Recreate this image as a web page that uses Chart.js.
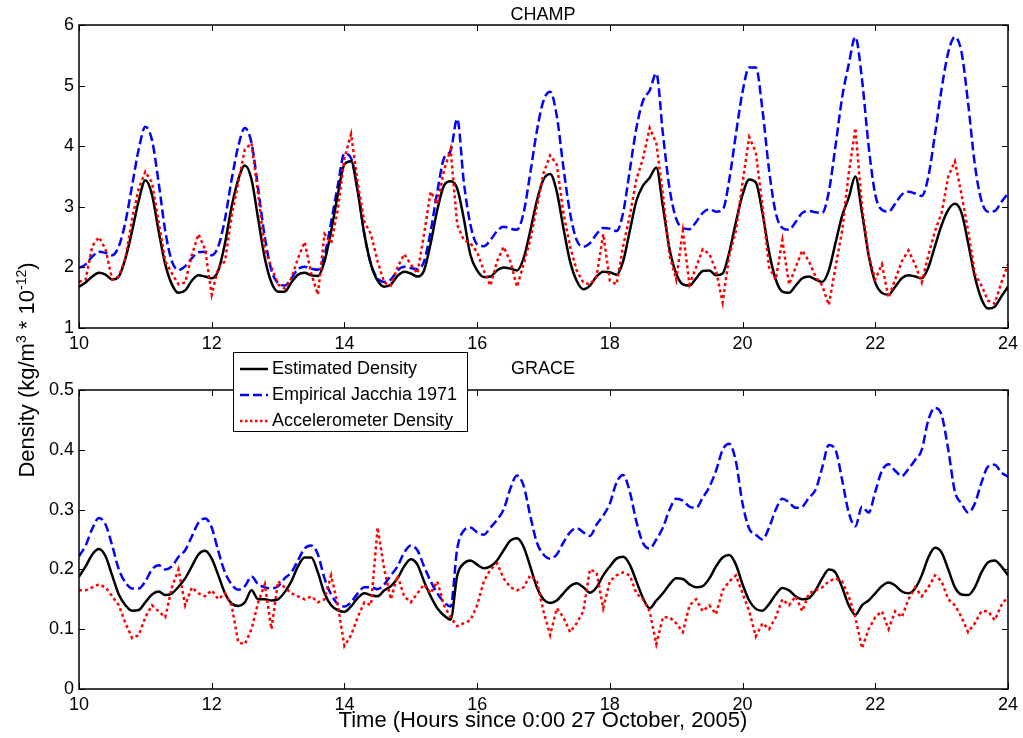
<!DOCTYPE html>
<html>
<head>
<meta charset="utf-8">
<script src="https://cdn.jsdelivr.net/npm/chart.js@4"></script>
<style>
body { margin: 0; background: #fff; }
#wrap { position: relative; width: 1023px; height: 738px; font-family: "Liberation Sans", Arial, sans-serif; color: #000; }
canvas { position: absolute; left: 0; }
.lbl { position: absolute; white-space: nowrap; text-align: center; }
.lbl sup { font-size: 14px; }
#legend { position: absolute; left: 233px; top: 352px; width: 233px; height: 78px; border: 1px solid #000; background: #fff; z-index: 5; font-size: 18px; }
#legend div { position: absolute; left: 6px; height: 26px; line-height: 26px; }
#legend svg { vertical-align: middle; margin-right: 4px; }
</style>
</head>
<body>
<div id="wrap">
  <canvas id="champChart" width="1023" height="355" style="top:0"></canvas>
  <canvas id="graceChart" width="1023" height="373" style="top:365px"></canvas>
  <div class="lbl" style="left:443px; top:4px; width:200px; font-size:18px;">CHAMP</div>
  <div class="lbl" style="left:443px; top:358px; width:200px; font-size:18px;">GRACE</div>
  <div class="lbl" style="left:243px; top:707px; width:600px; font-size:22px;">Time (Hours since 0:00 27 October, 2005)</div>
  <div class="lbl" style="left:-179px; top:356px; width:400px; height:28px; line-height:28px; font-size:22px; transform:rotate(-90deg);">Density (kg/m<sup>3</sup> * 10<sup>-12</sup>)</div>
  <div id="legend">
    <div style="top:2px"><svg width="28" height="6"><line x1="0" y1="3" x2="28" y2="3" stroke="#000" stroke-width="2.5"/></svg>Estimated Density</div>
    <div style="top:28px"><svg width="28" height="6"><line x1="0" y1="3" x2="28" y2="3" stroke="#0000ff" stroke-width="2.5" stroke-dasharray="9,4"/></svg>Empirical Jacchia 1971</div>
    <div style="top:54px"><svg width="28" height="6"><line x1="0" y1="3" x2="28" y2="3" stroke="#ff0000" stroke-width="2.5" stroke-dasharray="2.5,2.5"/></svg>Accelerometer Density</div>
  </div>
</div>
<script>
// time axis, hours since 0:00 27 Oct 2005, every 0.1 h
const hours = [];
for (let i = 0; i <= 140; i++) hours.push(+(10 + i * 0.1).toFixed(1));

// CHAMP (x 1e-12 kg/m^3)
const champEstimated = [
  1.68,1.75,1.85,1.91,1.88,1.80,1.85,2.15,2.60,3.10,
  3.44,3.20,2.60,2.05,1.72,1.58,1.62,1.78,1.87,1.85,
  1.82,1.95,2.40,3.00,3.45,3.68,3.45,2.80,2.15,1.75,
  1.60,1.60,1.75,1.88,1.91,1.87,1.86,2.10,2.60,3.20,
  3.70,3.75,3.25,2.55,2.05,1.78,1.68,1.72,1.86,1.93,
  1.90,1.85,1.95,2.40,2.95,3.35,3.42,3.30,2.80,2.20,
  1.95,1.84,1.85,1.95,2.00,1.98,1.95,2.15,2.60,3.10,
  3.45,3.54,3.25,2.65,2.10,1.78,1.64,1.70,1.85,1.93,
  1.92,1.88,2.10,2.60,3.10,3.35,3.48,3.65,3.00,2.30,
  1.90,1.72,1.70,1.82,1.94,1.95,1.87,1.90,2.25,2.75,
  3.20,3.45,3.40,2.90,2.25,1.80,1.60,1.58,1.70,1.82,
  1.85,1.80,1.76,1.95,2.40,2.85,3.15,3.50,2.90,2.20,
  1.75,1.58,1.55,1.68,1.82,1.87,1.85,1.82,2.00,2.35,
  2.70,2.95,3.05,2.90,2.40,1.85,1.48,1.32,1.35,1.52,
  1.68
];
const champJacchia = [
  1.99,2.05,2.18,2.26,2.24,2.20,2.35,2.75,3.35,3.95,
  4.32,4.10,3.40,2.60,2.10,1.96,2.02,2.15,2.25,2.26,
  2.20,2.35,2.80,3.45,4.00,4.30,4.05,3.30,2.50,1.95,
  1.74,1.70,1.82,1.97,2.01,1.98,1.96,2.20,2.75,3.35,
  3.88,3.80,3.30,2.55,2.05,1.82,1.76,1.80,1.95,2.01,
  1.99,1.97,2.10,2.60,3.25,3.80,3.92,4.45,3.40,2.70,
  2.38,2.35,2.45,2.60,2.67,2.64,2.62,2.90,3.55,4.25,
  4.75,4.90,4.50,3.65,2.90,2.45,2.34,2.40,2.55,2.65,
  2.64,2.60,2.90,3.60,4.30,4.75,4.92,5.20,4.20,3.30,
  2.80,2.65,2.63,2.75,2.90,2.96,2.92,2.95,3.45,4.20,
  4.90,5.30,5.30,4.60,3.60,2.90,2.65,2.62,2.75,2.90,
  2.93,2.91,2.90,3.25,4.00,4.80,5.35,5.80,5.10,4.00,
  3.20,2.95,2.92,3.05,3.20,3.25,3.22,3.18,3.50,4.20,
  4.95,5.55,5.80,5.55,4.70,3.70,3.10,2.92,2.93,3.08,
  3.22
];
const champAccel = [
  1.76,1.80,2.35,2.50,2.30,1.80,1.85,2.15,2.80,3.30,
  3.58,3.40,2.75,2.10,1.90,1.72,1.75,2.20,2.55,2.30,
  1.55,2.00,2.10,2.85,3.40,3.95,4.05,3.20,2.30,2.00,
  1.72,1.65,1.82,2.15,2.42,1.90,1.55,2.55,2.40,2.95,
  3.80,4.20,3.40,2.75,2.55,2.10,1.75,1.70,2.00,2.22,
  2.05,1.90,2.55,3.25,3.05,3.60,3.95,2.70,2.45,2.40,
  2.25,1.95,1.70,2.10,2.34,2.10,1.68,2.05,2.45,3.00,
  3.55,3.85,3.70,2.90,2.35,1.95,1.75,1.72,1.85,2.55,
  1.78,1.72,2.35,2.85,3.45,3.80,4.30,4.05,3.20,2.20,
  1.80,2.60,1.72,2.00,2.30,2.22,1.95,1.42,2.20,2.60,
  3.40,4.15,3.90,3.00,2.00,1.80,2.45,1.72,2.00,2.28,
  2.10,1.85,1.70,1.38,2.00,2.60,3.55,4.30,3.00,2.20,
  1.80,2.05,1.50,1.80,2.10,2.28,2.05,1.75,2.20,2.60,
  2.90,3.50,3.75,3.20,2.60,1.90,1.70,1.45,1.40,1.75,
  2.05
];

// GRACE
const graceEstimated = [
  0.188,0.205,0.225,0.234,0.222,0.190,0.158,0.140,0.131,0.132,
  0.145,0.158,0.163,0.157,0.160,0.171,0.185,0.205,0.225,0.231,
  0.218,0.190,0.160,0.143,0.139,0.145,0.165,0.150,0.150,0.148,
  0.150,0.162,0.180,0.205,0.220,0.220,0.195,0.160,0.140,0.132,
  0.129,0.138,0.152,0.160,0.157,0.155,0.165,0.172,0.185,0.205,
  0.217,0.208,0.180,0.155,0.135,0.123,0.116,0.190,0.210,0.215,
  0.208,0.202,0.205,0.215,0.232,0.248,0.252,0.238,0.205,0.170,
  0.150,0.144,0.148,0.160,0.172,0.177,0.170,0.161,0.170,0.190,
  0.205,0.218,0.221,0.208,0.180,0.152,0.135,0.148,0.160,0.175,
  0.185,0.184,0.175,0.170,0.172,0.185,0.205,0.220,0.224,0.208,
  0.175,0.148,0.134,0.131,0.142,0.158,0.169,0.165,0.155,0.150,
  0.152,0.165,0.185,0.200,0.195,0.170,0.140,0.124,0.140,0.148,
  0.160,0.172,0.178,0.173,0.163,0.160,0.168,0.190,0.220,0.236,
  0.228,0.200,0.170,0.158,0.157,0.170,0.195,0.212,0.215,0.205,
  0.190
];
const graceJacchia = [
  0.222,0.240,0.268,0.286,0.275,0.240,0.200,0.178,0.168,0.168,
  0.180,0.200,0.207,0.200,0.205,0.221,0.232,0.255,0.278,0.285,
  0.270,0.230,0.195,0.175,0.166,0.172,0.188,0.175,0.170,0.168,
  0.172,0.185,0.195,0.215,0.235,0.240,0.225,0.185,0.158,0.142,
  0.138,0.145,0.160,0.170,0.170,0.167,0.175,0.190,0.205,0.228,
  0.240,0.232,0.205,0.180,0.160,0.145,0.138,0.235,0.265,0.270,
  0.262,0.258,0.270,0.283,0.300,0.335,0.357,0.340,0.290,0.245,
  0.225,0.218,0.225,0.245,0.262,0.269,0.262,0.256,0.275,0.290,
  0.310,0.345,0.358,0.330,0.280,0.244,0.235,0.250,0.270,0.300,
  0.318,0.315,0.305,0.303,0.320,0.338,0.365,0.400,0.410,0.380,
  0.310,0.268,0.258,0.250,0.270,0.300,0.318,0.312,0.303,0.305,
  0.320,0.333,0.370,0.408,0.400,0.350,0.295,0.272,0.305,0.295,
  0.330,0.365,0.376,0.365,0.356,0.368,0.383,0.400,0.450,0.470,
  0.458,0.400,0.330,0.310,0.295,0.310,0.345,0.372,0.375,0.362,
  0.355
];
const graceAccel = [
  0.165,0.165,0.170,0.175,0.170,0.155,0.140,0.110,0.085,0.090,
  0.120,0.140,0.130,0.120,0.170,0.200,0.140,0.170,0.160,0.155,
  0.165,0.150,0.160,0.140,0.078,0.075,0.100,0.145,0.175,0.100,
  0.180,0.170,0.160,0.155,0.150,0.155,0.145,0.150,0.190,0.140,
  0.072,0.090,0.120,0.145,0.140,0.270,0.200,0.150,0.190,0.155,
  0.145,0.160,0.175,0.160,0.180,0.140,0.120,0.105,0.110,0.115,
  0.140,0.180,0.200,0.210,0.185,0.170,0.165,0.170,0.190,0.180,
  0.130,0.090,0.135,0.120,0.095,0.110,0.130,0.200,0.195,0.135,
  0.180,0.190,0.195,0.190,0.160,0.150,0.130,0.075,0.120,0.120,
  0.110,0.095,0.140,0.150,0.130,0.140,0.125,0.165,0.180,0.190,
  0.160,0.130,0.088,0.110,0.100,0.120,0.150,0.140,0.155,0.130,
  0.160,0.165,0.170,0.180,0.185,0.180,0.155,0.120,0.068,0.100,
  0.120,0.130,0.100,0.130,0.120,0.150,0.170,0.155,0.170,0.190,
  0.180,0.150,0.140,0.120,0.095,0.110,0.130,0.130,0.115,0.140,
  0.155
];

const FONT = '"Liberation Sans", Arial, sans-serif';
const pts = vals => vals.map((v, i) => ({ x: hours[i], y: v }));

// box around the plot with inward ticks on all four sides (matlab style)
const boxTicks = {
  id: 'boxTicks',
  afterDraw(chart) {
    const { ctx, chartArea: a, scales: { x, y } } = chart;
    ctx.save();
    ctx.strokeStyle = '#000';
    ctx.lineWidth = 1;
    ctx.beginPath();
    x.ticks.forEach(t => {
      const px = Math.round(x.getPixelForValue(t.value)) + 0.5;
      ctx.moveTo(px, a.bottom); ctx.lineTo(px, a.bottom - 6);
      ctx.moveTo(px, a.top); ctx.lineTo(px, a.top + 6);
    });
    y.ticks.forEach(t => {
      const py = Math.round(y.getPixelForValue(t.value)) + 0.5;
      ctx.moveTo(a.left, py); ctx.lineTo(a.left + 6, py);
      ctx.moveTo(a.right, py); ctx.lineTo(a.right - 6, py);
    });
    ctx.stroke();
    ctx.lineWidth = 1.5;
    ctx.strokeRect(a.left, a.top, a.right - a.left, a.bottom - a.top);
    ctx.restore();
  }
};

function makeChart(id, est, jac, acc, yMin, yMax, yStep, xHeight, padRight) {
  const ctx = document.getElementById(id).getContext('2d');
  return new Chart(ctx, {
    type: 'line',
    data: {
      datasets: [
        { label: 'Estimated Density', data: pts(est), borderColor: '#000000', borderWidth: 2.5,
          pointRadius: 0, cubicInterpolationMode: 'monotone', order: 1 },
        { label: 'Empirical Jacchia 1971', data: pts(jac), borderColor: '#0000ff', borderWidth: 2.5,
          borderDash: [9, 4], pointRadius: 0, cubicInterpolationMode: 'monotone', order: 2 },
        { label: 'Accelerometer Density', data: pts(acc), borderColor: '#ff0000', borderWidth: 2.5,
          borderDash: [3, 3], pointRadius: 0, tension: 0, order: 0 }
      ]
    },
    options: {
      responsive: false,
      animation: false,
      layout: { padding: { top: 25, right: padRight, left: 0, bottom: 0 } },
      plugins: { legend: { display: false }, tooltip: { enabled: false } },
      scales: {
        x: {
          type: 'linear', min: 10, max: 24,
          grid: { display: false, drawTicks: false, tickLength: 0 },
          border: { display: false },
          ticks: { stepSize: 2, color: '#000', font: { family: FONT, size: 18 }, padding: 5, maxRotation: 0 },
          afterFit(s) { s.height = xHeight; }
        },
        y: {
          min: yMin, max: yMax,
          grid: { display: false, drawTicks: false, tickLength: 0 },
          border: { display: false },
          ticks: { stepSize: yStep, color: '#000', font: { family: FONT, size: 18 }, padding: 5,
                   callback: v => +v.toFixed(1) },
          afterFit(s) { s.width = 79; }
        }
      }
    },
    plugins: [boxTicks]
  });
}

makeChart('champChart', champEstimated, champJacchia, champAccel, 1, 6, 1, 27, 15);
makeChart('graceChart', graceEstimated, graceJacchia, graceAccel, 0, 0.5, 0.1, 49, 13);
</script>
</body>
</html>
